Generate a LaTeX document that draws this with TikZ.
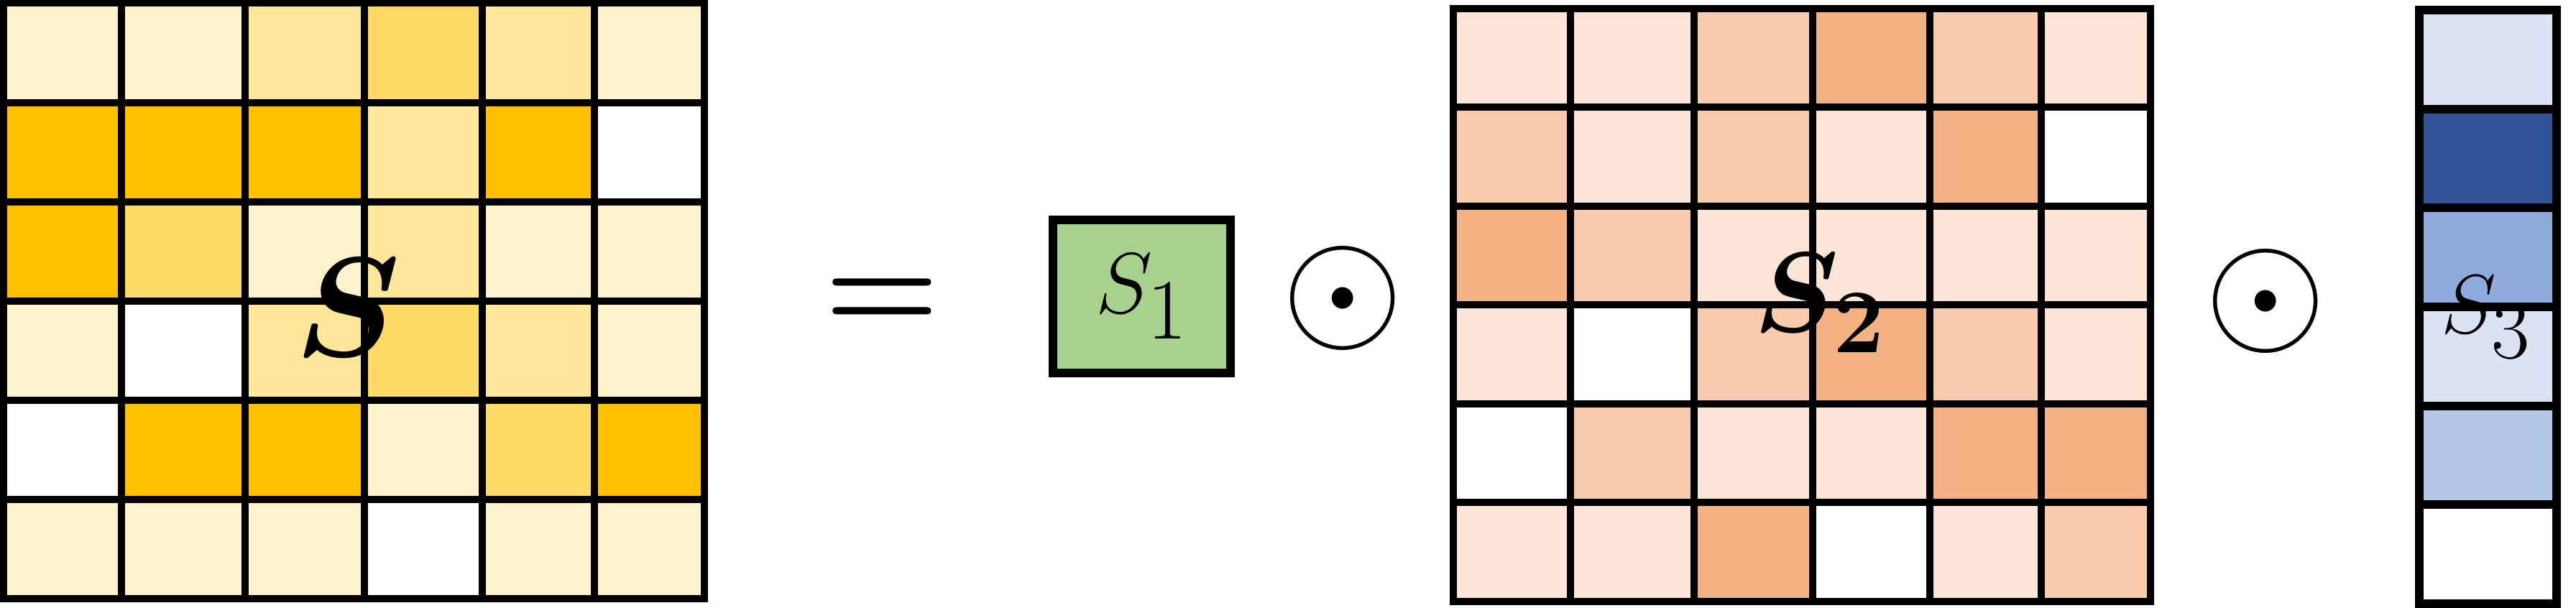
\RequirePackage{fix-cm}
\documentclass[tikz,border=0pt]{standalone}
\usepackage{amsmath,bm}
\usetikzlibrary{positioning}
\definecolor{gold1}{HTML}{FFF2CC}
\definecolor{gold2}{HTML}{FFE699}
\definecolor{gold3}{HTML}{FFD966}
\definecolor{gold4}{HTML}{FFC000}
\definecolor{peach1}{HTML}{FBE5D6}
\definecolor{peach2}{HTML}{F8CBAD}
\definecolor{peach3}{HTML}{F4B183}
\definecolor{blue1}{HTML}{DAE3F3}
\definecolor{blue2}{HTML}{B4C7E7}
\definecolor{blue3}{HTML}{8FAADC}
\definecolor{blue4}{HTML}{2F5597}
\definecolor{leaf}{HTML}{A9D18E}
\tikzset{
  gridline/.style={draw=black,line width=1mm,line cap=rect},
  thickline/.style={draw=black,line width=1.2mm},
  lbl/.style={inner sep=0pt,anchor=base west},
  sym/.style={inner sep=0pt},
}
% column borders of the 6x6 maps, as fractions of the width
\def\xfrac{{0,0.168,0.345,0.515,0.683,0.843,1}}
\newcommand\heatgrid[3]{%
  \foreach \row [count=\ri from 0] in {#3}{
    \foreach \cc [count=\ci from 0] in \row{
      \pgfmathsetmacro\xl{#1*\xfrac[\ci]}
      \pgfmathsetmacro\xr{#1*\xfrac[\ci+1]}
      \fill[\cc] (\xl,{#2*(6-\ri)/6}) rectangle (\xr,{#2*(5-\ri)/6});
    }
  }
  \foreach \ci in {1,...,5}{
    \pgfmathsetmacro\xl{#1*\xfrac[\ci]}
    \draw[gridline] (\xl,0) -- (\xl,#2);
    \draw[gridline] (0,{#2*\ci/6}) -- (#1,{#2*\ci/6});
  }
  \draw[gridline,line cap=butt,line join=miter] (0,0) rectangle (#1,#2);
}

\begin{document}
\begin{tikzpicture}
\useasboundingbox (0,0) rectangle (35.84,8.46);
% S
\begin{scope}[shift={(0.05,0.13)}]
\heatgrid{9.75}{8.285}{
  {gold1,gold1,gold2,gold3,gold2,gold1},
  {gold4,gold4,gold4,gold2,gold4,white},
  {gold4,gold3,gold1,gold2,gold1,gold1},
  {gold1,white,gold2,gold3,gold2,gold1},
  {white,gold4,gold4,gold1,gold3,gold4},
  {gold1,gold1,gold1,white,gold1,gold1}}
\end{scope}
\node[sym,font=\fontsize{56}{60}\selectfont] (bigS) at (4.84,4.18) {$\bm{S}$};
\node[sym,anchor=base,font=\fontsize{52}{56}\selectfont] (eq) at (12.275,3.87) {$\bm{=}$};
% S_1
\node[thickline,fill=leaf,minimum width=2.47cm,minimum height=2.13cm,inner sep=0pt,
      font=\fontsize{34}{40}\selectfont] (sone) at (15.885,4.335) {$S_{\textstyle 1}$};
\node[sym,font=\fontsize{62}{66}\selectfont] (dotA) at (18.68,4.31) {$\odot$};
% S_2
\begin{scope}[shift={(20.22,0.09)}]
\heatgrid{9.70}{8.25}{
  {peach1,peach1,peach2,peach3,peach2,peach1},
  {peach2,peach1,peach2,peach1,peach3,white},
  {peach3,peach2,peach1,peach1,peach1,peach1},
  {peach1,white,peach2,peach3,peach2,peach1},
  {white,peach2,peach1,peach1,peach3,peach3},
  {peach1,peach1,peach3,white,peach1,peach2}}
\end{scope}
\node[lbl,font=\fontsize{45}{50}\selectfont] (stwo) at (24.40,3.84)
  {$\bm{S}_{\text{\fontsize{36}{40}\selectfont\bfseries 2}}$};
\node[sym,font=\fontsize{62}{66}\selectfont] (dotB) at (31.52,4.27) {$\odot$};
% S_3
\begin{scope}[shift={(33.66,0.06)}]
\foreach \cc [count=\ri from 0] in {blue1,blue4,blue3,blue1,blue2,white}
  \fill[\cc] (0,{8.26*(6-\ri)/6}) rectangle (1.91,{8.26*(5-\ri)/6});
\foreach \ri in {1,...,5}
  \draw[thickline] (0,{8.26*\ri/6}) -- (1.91,{8.26*\ri/6});
\draw[thickline,line join=miter] (0,0) rectangle (1.91,8.26);
\end{scope}
\node[lbl,font=\fontsize{33}{38}\selectfont] (sthree) at (33.96,3.82) {$S_{\textstyle 3}$};
\end{tikzpicture}
\end{document}
